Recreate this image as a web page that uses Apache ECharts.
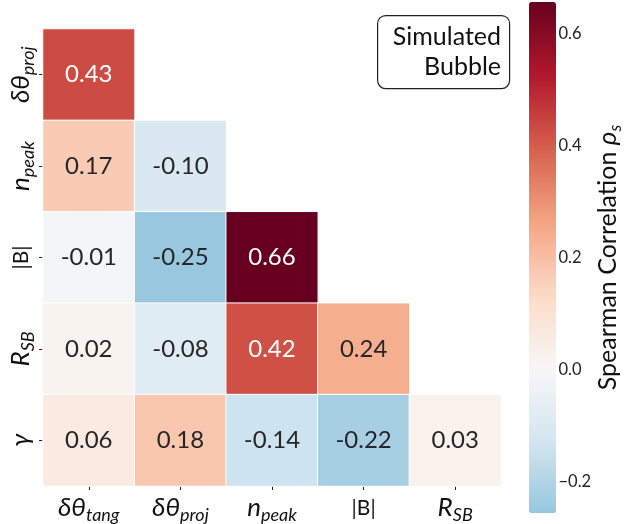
<!DOCTYPE html>
<html>
<head>
<meta charset="utf-8">
<style>
  html, body { margin: 0; padding: 0; background: #fff; }
  #chart { width: 625px; height: 524px; }
</style>
<script src="https://cdn.jsdelivr.net/npm/echarts@6/dist/echarts.min.js"></script>
</head>
<body>
<div id="chart"></div>
<script>
// Lower-triangle Spearman correlation matrix
const colLabels = ['{m|δθ}{s|tang}', '{m|δθ}{s|proj}', '{m|n}{s|peak}', '{u||B|}', '{m|R}{s|SB}'];
const rowLabels = ['{m|δθ}{s|proj}', '{m|n}{s|peak}', '{u||B|}', '{m|R}{s|SB}', '{m|γ}'];

const rowDthetaProj = [0.43];
const rowNPeak      = [0.17, -0.10];
const rowB          = [-0.01, -0.25, 0.66];
const rowRSB        = [0.02, -0.08, 0.42, 0.24];
const rowGamma      = [0.06, 0.18, -0.14, -0.22, 0.03];
const rows = [rowDthetaProj, rowNPeak, rowB, rowRSB, rowGamma];

const colorbarTicks = [-0.2, 0.0, 0.2, 0.4, 0.6];
const colorMin = -0.255, colorMax = 0.656;

// RdBu_r diverging colormap, centred on zero (symmetric span)
const rdbuR = ['#053061','#2166ac','#4393c3','#92c5de','#d1e5f0','#f7f7f7','#fddbc7','#f4a582','#d6604d','#b2182b','#67001f'];
function hex2rgb(h){ return [1,3,5].map(i => parseInt(h.substr(i,2),16)); }
function cmapRGB(t){
  t = Math.max(0, Math.min(1, t));
  const p = t * 10, i = Math.min(9, Math.floor(p)), f = p - i;
  const a = hex2rgb(rdbuR[i]), b = hex2rgb(rdbuR[i+1]);
  return a.map((v,k) => Math.round(v + (b[k]-v)*f));
}
const span = Math.max(colorMax, -colorMin);
const toT = v => (v + span) / (2 * span);
const stops = [];
for (let k = 0; k <= 60; k++) {
  const v = colorMin + (colorMax - colorMin) * k / 60;
  stops.push('rgb(' + cmapRGB(toT(v)).join(',') + ')');
}
// light text on dark cells, dark text elsewhere
function textColor(v){
  const s = cmapRGB(toT(v)).map(x => {
    x /= 255; return x <= 0.03928 ? x/12.92 : Math.pow((x+0.055)/1.055, 2.4);
  });
  const L = 0.2126*s[0] + 0.7152*s[1] + 0.0722*s[2];
  return L < 0.408 ? '#ffffff' : '#262626';
}

const cells = [];
rows.forEach((r, i) => r.forEach((v, j) => {
  cells.push({ value: [j, i, v], label: { color: textColor(v) } });
}));

const FONT = 'Lato';
const rich = {
  m: { fontFamily: FONT, fontSize: 26, fontStyle: 'italic', color: '#111', lineHeight: 32 },
  s: { fontFamily: FONT, fontSize: 18, fontStyle: 'italic', color: '#111', lineHeight: 18, verticalAlign: 'bottom' },
  u: { fontFamily: FONT, fontSize: 21, color: '#111', lineHeight: 32 }
};

const chart = echarts.init(document.getElementById('chart'));
chart.setOption({
  animation: false,
  backgroundColor: '#fff',
  grid: [
    { left: 43, top: 29, width: 458, height: 457 },
    { left: 529, top: 2, width: 27, height: 511 }
  ],
  xAxis: [
    {
      type: 'category', data: colLabels, gridIndex: 0,
      axisLine: { show: false },
      axisTick: { show: true, alignWithLabel: true, length: 4, lineStyle: { color: '#222' } },
      axisLabel: { interval: 0, margin: 6, rich: rich, formatter: v => v },
      splitLine: { show: false }, splitArea: { show: false }
    },
    { type: 'value', gridIndex: 1, show: false, min: 0, max: 1 }
  ],
  yAxis: [
    {
      type: 'category', data: rowLabels, gridIndex: 0, inverse: true,
      axisLine: { show: false },
      axisTick: { show: true, alignWithLabel: true, length: 4, lineStyle: { color: '#222' } },
      axisLabel: { interval: 0, margin: 6, rotate: 90, rich: rich, formatter: v => v },
      splitLine: { show: false }, splitArea: { show: false }
    },
    {
      type: 'value', gridIndex: 1, position: 'right', min: colorMin, max: colorMax,
      axisLine: { show: false },
      splitLine: { show: false },
      axisTick: { show: true, length: 4, customValues: colorbarTicks, lineStyle: { color: '#222' } },
      axisLabel: {
        show: true, margin: 7, customValues: colorbarTicks,
        fontFamily: FONT, fontSize: 16.5, color: '#222',
        formatter: v => (v < 0 ? '\u2212' : '') + Math.abs(v).toFixed(1)
      },
      name: '{n|Spearman Correlation }{g|ρ}{gs|s}',
      nameLocation: 'middle', nameRotate: 90, nameGap: 40,
      nameTextStyle: {
        rich: {
          n: { fontFamily: FONT, fontSize: 25, color: '#111', lineHeight: 32 },
          g: { fontFamily: FONT, fontSize: 26, fontStyle: 'italic', color: '#111', lineHeight: 32 },
          gs: { fontFamily: FONT, fontSize: 17, fontStyle: 'italic', color: '#111', lineHeight: 17, verticalAlign: 'bottom' }
        }
      }
    }
  ],
  visualMap: {
    type: 'continuous', min: colorMin, max: colorMax, calculable: false,
    realtime: false, seriesIndex: 0, dimension: 2,
    orient: 'vertical', left: 529, top: 2, itemWidth: 27, itemHeight: 511,
    padding: 0, text: null, showLabel: false, hoverLink: false,
    inRange: { color: stops }
  },
  series: [{
    type: 'heatmap', xAxisIndex: 0, yAxisIndex: 0,
    data: cells,
    itemStyle: { borderColor: '#ffffff', borderWidth: 1 },
    label: {
      show: true, fontFamily: FONT, fontSize: 24,
      formatter: p => p.value[2].toFixed(2)
    },
    emphasis: { disabled: true }
  }],
  graphic: [
    {
      type: 'rect', left: 377, top: 15,
      shape: { width: 132, height: 73, r: 8 },
      style: { fill: '#fff', stroke: '#222', lineWidth: 1.2 }, z: 10
    },
    {
      type: 'text', x: 501, y: 52, z: 11,
      style: {
        text: 'Simulated\nBubble', fontFamily: FONT, fontSize: 25, lineHeight: 30,
        fill: '#111', align: 'right', verticalAlign: 'middle'
      }
    }
  ]
});
</script>
</body>
</html>
